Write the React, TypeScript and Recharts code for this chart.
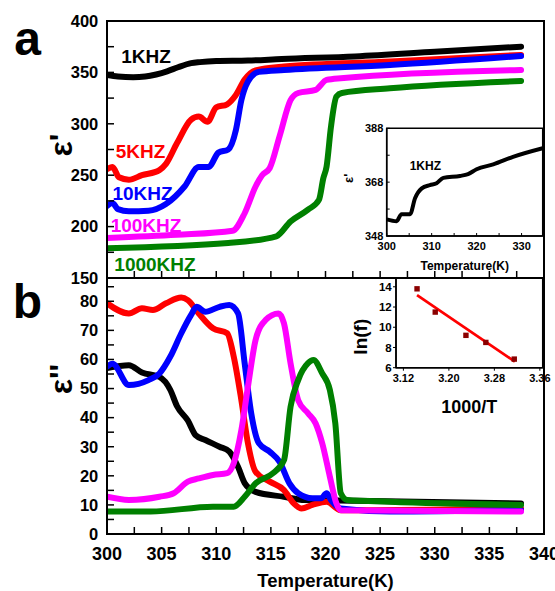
import React from 'react';
import { LineChart, ComposedChart, Line, Scatter, XAxis, YAxis, ReferenceArea, Label } from 'recharts';

type P = [number, number];

// ---------- Panel a : epsilon' vs temperature ----------
const realP1k: P[] = [[300, 347.5], [301, 346], [302.4, 345.3], [303.5, 346], [304.5, 348], [305.5, 351], [306.5, 355], [307.7, 359], [308.5, 360], [310, 361], [312.9, 361.5], [316, 363], [322.7, 365.5], [330, 370], [337.9, 375]];
const realP5k: P[] = [[300, 256], [300.5, 258], [301.1, 248], [302, 245.6], [303.2, 250], [304.8, 255], [305.4, 261], [306.4, 281], [307.7, 304], [308.4, 307], [309.2, 302], [310, 316], [311, 319], [311.8, 328], [312.6, 343], [313.6, 352], [316.2, 355.7], [325.9, 360.5], [337.9, 367]];
const realP10k: P[] = [[300, 220], [300.5, 223], [301, 217], [302, 215], [303.8, 215.5], [305.4, 222], [307.1, 239], [308.4, 258], [309.3, 258], [310.2, 272], [311.1, 275], [311.8, 294], [312.3, 323], [312.9, 341], [313.9, 350.5], [316.2, 352.4], [325.9, 357.3], [337.9, 366]];
const realP100k: P[] = [[300, 189], [306.4, 192], [311.5, 196], [312.6, 213], [313.6, 239], [314.2, 250], [314.9, 257], [315.8, 288], [316.8, 323], [317.5, 330], [319.1, 333], [320.1, 342.7], [321.4, 344.4], [337.9, 352.4]];
const realP1000k: P[] = [[300, 179], [311.1, 184], [315.5, 190.6], [316.8, 205], [318.4, 216.5], [319.4, 226], [319.8, 247], [320.1, 258.5], [320.5, 297], [321, 326.5], [321.5, 330], [325.9, 334.6], [337.9, 341.7]];

// ---------- Panel b : epsilon'' vs temperature ----------
const imagP1k: P[] = [[300, 57], [302, 58], [303.2, 55.5], [304.8, 54], [305.8, 49.5], [306.4, 44], [307.4, 39], [308.1, 34], [309, 32.3], [310.3, 30], [311.2, 28.3], [312, 23], [312.6, 17.5], [313.6, 14.5], [316.2, 12.8], [318.1, 11.7], [322.7, 11.4], [337.9, 10.5]];
const imagP5k: P[] = [[300, 79.3], [302, 75.8], [303.2, 77.6], [304.2, 77], [305.4, 79.3], [306.8, 81.3], [307.4, 80.4], [308.4, 75.8], [309.7, 70.7], [311, 69], [311.6, 61], [312.3, 46], [312.9, 31.2], [313.6, 21.4], [314.9, 18], [316.2, 15.1], [317.1, 10.5], [317.8, 8.8], [318.8, 10], [320.1, 11.1], [321.4, 8.2], [324.3, 8.2], [337.9, 8.8]];
const imagP10k: P[] = [[300, 57.5], [300.5, 58.5], [302, 51.2], [303.8, 52.9], [304.8, 55.2], [305.8, 61], [306.8, 69], [307.7, 75.3], [308.2, 78.1], [309, 76.4], [310.3, 78.1], [311.2, 78.7], [312, 75.8], [312.6, 58.7], [313.2, 41.5], [313.9, 31.2], [314.9, 28.3], [315.8, 24.8], [316.7, 17.4], [317.5, 14], [318.8, 12.3], [319.6, 12.3], [320.1, 14], [320.5, 11.7], [321.4, 8.8], [325.9, 7.7], [337.9, 8.2]];
const imagP100k: P[] = [[300, 12.8], [302, 11.7], [304.8, 12.8], [306.1, 14], [307.4, 18], [308.4, 19.1], [309.7, 20.3], [311, 20.9], [311.6, 24.3], [312.3, 35.7], [312.9, 50.6], [313.6, 66.7], [314.5, 73.5], [315.7, 75.8], [316.2, 72.4], [316.8, 58.7], [317.5, 46], [318.4, 41.5], [319.1, 38], [319.7, 31.2], [320.4, 19.7], [321, 10.5], [321.4, 8.2], [337.9, 7.7]];
const imagP1000k: P[] = [[300, 7.7], [304, 7.7], [309.7, 9.4], [311.6, 9.4], [312.6, 12.8], [313.6, 17.4], [315.2, 20.9], [316.2, 25.4], [316.8, 43.7], [317.5, 52.9], [318.4, 58.7], [318.9, 59.8], [319.7, 55.2], [320.4, 49.5], [320.9, 38], [321.4, 14], [322, 11.7], [325.9, 11.1], [337.9, 10]];

// ---------- Inset a : 1KHZ epsilon' ----------
const insetA1k: P[] = [[300, 354.2], [302.2, 353.5], [303.3, 356.1], [305.2, 356.1], [306.3, 362], [307.8, 365.7], [309.6, 366.9], [311.1, 367.6], [312.6, 369.6], [316.3, 370.3], [318.1, 371], [320, 372.8], [323.7, 374.6], [328.1, 377.4], [334.7, 380.6]];

// ---------- Inset b : ln(f) vs 1000/T ----------
const invT = [3.144, 3.176, 3.23, 3.265, 3.315];
const lnF = [13.8, 11.5, 9.2, 8.5, 6.85];
const fitLine: P[] = [[3.144, 13.17], [3.316, 6.6]];

// ---------- ticks ----------
const xTicksMain = [300, 302.5, 305, 307.5, 310, 312.5, 315, 317.5, 320, 322.5, 325, 327.5, 330, 332.5, 335, 337.5, 340];
const yTicksA = [150, 175, 200, 225, 250, 275, 300, 325, 350, 375, 400];
const yTicksB = [0, 5, 10, 15, 20, 25, 30, 35, 40, 45, 50, 55, 60, 65, 70, 75, 80, 85];
const xTicksInsetA = [300, 305, 310, 315, 320, 325, 330];
const yTicksInsetA = [348, 358, 368, 378, 388];
const xTicksInsetB = [3.12, 3.2, 3.28, 3.36];
const yTicksInsetB = [6, 8, 10, 12, 14];

const seriesNames = ['1KHZ', '5KHZ', '10KHZ', '100KHZ', '1000KHZ'];
const seriesColors = ['#000000', '#ff0000', '#0000ff', '#ff00ff', '#008000'];
const realSeries = [realP1k, realP5k, realP10k, realP100k, realP1000k];
const imagSeries = [imagP1k, imagP5k, imagP10k, imagP100k, imagP1000k];

const FONT = '"Liberation Sans", Arial, Helvetica, sans-serif';
const toXY = (arr: P[]) => arr.map(([x, y]) => ({ x, y }));
const tickStyle = (size: number) => ({ fill: '#000', fontSize: size, fontWeight: 700, fontFamily: FONT });
const axisLine = (w: number) => ({ stroke: '#000', strokeWidth: w });
const every = (n: number) => (v: number) => (Math.abs(v / n - Math.round(v / n)) < 1e-6 ? String(v) : '');

const labelPos: { name: string; x: number; y: number; color: string }[] = [
  { name: seriesNames[0], x: 146, y: 63, color: seriesColors[0] },
  { name: seriesNames[1], x: 140.5, y: 158, color: seriesColors[1] },
  { name: seriesNames[2], x: 142.5, y: 200, color: seriesColors[2] },
  { name: seriesNames[3], x: 146, y: 231.5, color: seriesColors[3] },
  { name: seriesNames[4], x: 155, y: 270.5, color: seriesColors[4] },
];

const Square = (props: any) => {
  const { cx, cy } = props;
  if (cx == null || cy == null) return null;
  return <rect x={cx - 2.7} y={cy - 2.7} width={5.4} height={5.4} fill="#8b0000" />;
};

export default function App() {
  return (
    <div style={{ position: 'absolute', left: 0, top: 0, width: 555, height: 591, background: '#fff', fontFamily: FONT, overflow: 'hidden' }}>
      {/* Panel a */}
      <div style={{ position: 'absolute', left: 0, top: 0 }}>
        <LineChart width={555} height={290} margin={{ top: 21, right: 11, bottom: 0, left: 0 }}>
          <XAxis type="number" dataKey="x" domain={[300, 340]} ticks={xTicksMain} interval={0} tickFormatter={() => ''}
            tickSize={-7} height={12} axisLine={axisLine(2)} tickLine={axisLine(1.5)} allowDataOverflow />
          <YAxis type="number" dataKey="y" domain={[150, 400]} ticks={yTicksA} interval={0} tickFormatter={every(50)}
            tickSize={-7} tickMargin={15.7} width={107} tick={tickStyle(16.5)} axisLine={axisLine(2)} tickLine={axisLine(1.5)} allowDataOverflow>
            <Label value="ε'" angle={-90} position="center" dx={7} dy={-4.5} fontSize={32} fontWeight={700} fill="#000" fontFamily={FONT} />
          </YAxis>
          <ReferenceArea x1={300} x2={340} y1={150} y2={400} fill="none" stroke="#000" strokeWidth={2} />
          {realSeries.map((s, i) => (
            <Line key={seriesNames[i]} data={toXY(s)} dataKey="y" type="monotone" stroke={seriesColors[i]} strokeWidth={6}
              strokeLinejoin="round" strokeLinecap="round" dot={false} isAnimationActive={false} />
          ))}
        </LineChart>
      </div>

      {/* Panel b */}
      <div style={{ position: 'absolute', left: 0, top: 270 }}>
        <LineChart width={555} height={321} margin={{ top: 8, right: 11, bottom: 0, left: 0 }}>
          <XAxis type="number" dataKey="x" domain={[300, 340]} ticks={xTicksMain} interval={0} tickFormatter={every(5)}
            tickSize={-7} tickMargin={20.5} height={57} tick={tickStyle(18)} axisLine={axisLine(2)} tickLine={axisLine(1.5)} allowDataOverflow>
            <Label value="Temperature(K)" position="insideBottom" offset={4} fontSize={18.5} fontWeight={700} fill="#000" fontFamily={FONT} />
          </XAxis>
          <YAxis type="number" dataKey="y" domain={[0, 88]} ticks={yTicksB} interval={0} tickFormatter={every(10)}
            tickSize={-7} tickMargin={15.7} width={107} tick={tickStyle(16.5)} axisLine={axisLine(2)} tickLine={axisLine(1.5)} allowDataOverflow>
            <Label value="ε''" angle={-90} position="center" dx={7} dy={-27} fontSize={32} fontWeight={700} fill="#000" fontFamily={FONT} />
          </YAxis>
          <ReferenceArea x1={300} x2={340} y1={0} y2={88} fill="none" stroke="#000" strokeWidth={2} />
          {imagSeries.map((s, i) => (
            <Line key={seriesNames[i]} data={toXY(s)} dataKey="y" type="monotone" stroke={seriesColors[i]} strokeWidth={6}
              strokeLinejoin="round" strokeLinecap="round" dot={false} isAnimationActive={false} />
          ))}
        </LineChart>
      </div>

      {/* Inset a */}
      <div style={{ position: 'absolute', left: 326, top: 120 }}>
        <LineChart width={220} height={160} margin={{ top: 8.3, right: 3.3, bottom: 0, left: 0 }}>
          <XAxis type="number" dataKey="x" domain={[300, 334.7]} ticks={xTicksInsetA} interval={0} tickFormatter={every(10)}
            tickSize={-3} tickMargin={9.5} height={44} tick={tickStyle(11)} axisLine={axisLine(1.5)} tickLine={axisLine(1)} allowDataOverflow>
            <Label value="Temperature(K)" position="insideBottom" offset={10} fontSize={12} fontWeight={700} fill="#000" fontFamily={FONT} />
          </XAxis>
          <YAxis type="number" dataKey="y" domain={[348, 388]} ticks={yTicksInsetA} interval={0} tickFormatter={(v: number) => (v === 358 || v === 378 ? '' : String(v))}
            tickSize={-3} tickMargin={6.4} width={60.7} tick={tickStyle(11)} axisLine={axisLine(1.5)} tickLine={axisLine(1)} allowDataOverflow>
            <Label value="ε'" angle={-90} position="center" dx={-7.7} dy={-3.9} fontSize={13} fontWeight={700} fill="#000" fontFamily={FONT} />
          </YAxis>
          <ReferenceArea x1={300} x2={334.7} y1={348} y2={388} fill="none" stroke="#000" strokeWidth={1.5} />
          <Line data={toXY(insetA1k)} dataKey="y" type="monotone" stroke="#000" strokeWidth={4} strokeLinejoin="round"
            dot={false} isAnimationActive={false} />
        </LineChart>
      </div>

      {/* Inset b */}
      <div style={{ position: 'absolute', left: 340, top: 272 }}>
        <ComposedChart width={215} height={150} margin={{ top: 6.3, right: 12.3, bottom: 0, left: 0 }}>
          <XAxis type="number" dataKey="x" domain={[3.107, 3.365]} ticks={xTicksInsetB} interval={0} tickFormatter={(v: number) => v.toFixed(2)}
            tickSize={3} tickMargin={3} height={54.3} tick={tickStyle(11)} axisLine={axisLine(1.5)} tickLine={axisLine(1)} allowDataOverflow>
            <Label value="1000/T" position="insideBottom" offset={9.3} fontSize={18} fontWeight={700} fill="#000" fontFamily={FONT} />
          </XAxis>
          <YAxis type="number" dataKey="y" domain={[6, 14.84]} ticks={yTicksInsetB} interval={0}
            tickSize={3} tickMargin={1.3} width={56} tick={tickStyle(11.5)} axisLine={axisLine(1.5)} tickLine={axisLine(1)} allowDataOverflow>
            <Label value="ln(f)" angle={-90} position="center" dx={-7.5} dy={13.7} fontSize={19} fontWeight={700} fill="#000" fontFamily={FONT} />
          </YAxis>
          <ReferenceArea x1={3.107} x2={3.365} y1={6} y2={14.84} fill="none" stroke="#000" strokeWidth={1.5} />
          <Line data={toXY(fitLine)} dataKey="y" type="linear" stroke="#ff0000" strokeWidth={2.7} dot={false} isAnimationActive={false} />
          <Scatter data={invT.map((x, i) => ({ x, y: lnF[i] }))} dataKey="y" shape={<Square />} isAnimationActive={false} />
        </ComposedChart>
      </div>

      {/* Annotations */}
      <svg width={555} height={591} style={{ position: 'absolute', left: 0, top: 0, pointerEvents: 'none' }}>
        <text x={27.7} y={55} textAnchor="middle" fontSize={48} fontWeight={700} fontFamily={FONT} fill="#000">a</text>
        <text x={27.3} y={318} textAnchor="middle" fontSize={48} fontWeight={700} fontFamily={FONT} fill="#000">b</text>
        {labelPos.map((l) => (
          <text key={l.name} x={l.x} y={l.y} textAnchor="middle" fontSize={19} fontWeight={700} fontFamily={FONT} fill={l.color}>{l.name}</text>
        ))}
        <text x={425.3} y={170} textAnchor="middle" fontSize={12} fontWeight={700} fontFamily={FONT} fill="#000">{seriesNames[0]}</text>
      </svg>
    </div>
  );
}
